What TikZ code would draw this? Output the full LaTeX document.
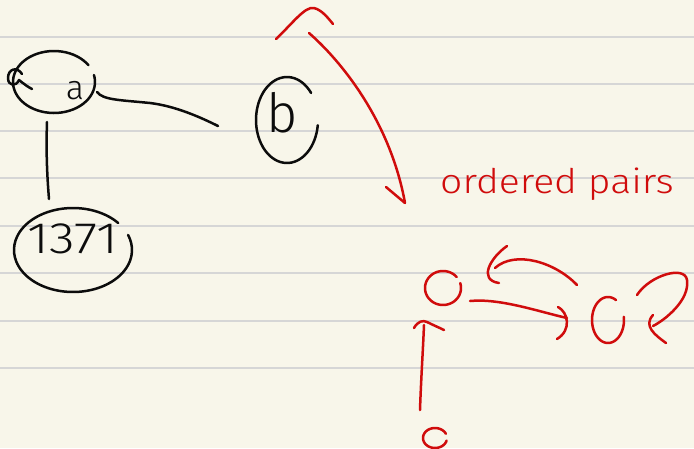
\documentclass[tikz,border=0pt]{standalone}
\usepackage{fontspec}
\newfontfamily\hand{Fira Sans Light}
\definecolor{paper}{RGB}{248,246,234}
\definecolor{rulegray}{RGB}{214,214,214}
\definecolor{ink}{RGB}{12,12,12}
\definecolor{redink}{RGB}{208,12,12}
\begin{document}
\begin{tikzpicture}[x=1pt,y=-1pt,
  pen/.style={draw=ink,line width=2.5pt,line cap=round,line join=round},
  rpen/.style={draw=redink,line width=2.5pt,line cap=round,line join=round},
  ruleline/.style={draw=rulegray,line width=1.4pt},
  lbl/.style={inner sep=0pt,text=ink}]
\fill[paper] (0,0) rectangle (694,448);
\useasboundingbox (0,0) rectangle (694,448);
\foreach \yy in {37,84,131,178,226,273,321,368} \draw[ruleline] (0,\yy) -- (694,\yy);

% ---- black nodes ----
\node[lbl,font=\hand\fontsize{34}{34}\selectfont] (alab) at (75,91) {a};
\draw[pen] plot[smooth,domain=-373:-33,samples=60] ({54+41*cos(\x)},{82+31*sin(\x)});
\draw[pen] (22,74) .. controls (17,66) and (8,69) .. (8,78) .. controls (8,86) and (16,87) .. (19,80) .. controls (24,84) and (28,87) .. (32,89);

\node[lbl,font=\hand\fontsize{54}{54}\selectfont] (blab) at (282,113) {b};
\draw[pen] plot[smooth,domain=-353:-39,samples=60] ({287+31*cos(\x)},{120+43*sin(\x)});

\node[lbl,font=\hand\fontsize{44}{44}\selectfont,xscale=1.2] (nlab) at (73,239) {1371};
\draw[pen] plot[smooth,domain=-381:-40,samples=60] ({73+59*cos(\x)},{250+42*sin(\x)});

% ---- black connectors ----
\coordinate (aE) at (97,92);
\coordinate (bW) at (218,126);
\coordinate (aS) at (47,122);
\coordinate (nN) at (49,199);
\draw[pen] (aE) .. controls (103,100) and (120,100) .. (150,103) .. controls (175,106) and (200,117) .. (bW);
\draw[pen] (aS) .. controls (46,150) and (47,175) .. (nN);

% ---- red ----
\coordinate (bigS) at (309,33);
\coordinate (bigE) at (405,203);
\draw[rpen] (276,39) .. controls (292,24) and (305,6) .. (314,8) .. controls (322,10) and (328,18) .. (333,24);
\draw[rpen] (bigS) .. controls (340,60) and (390,120) .. (bigE);
\draw[rpen] (386,187) -- (bigE);

\node[inner sep=0pt,anchor=base west,text=redink,font=\hand\fontsize{34}{34}\selectfont,xscale=1.15] (op) at (440,193) {ordered pairs};

% small graph
\draw[rpen] plot[smooth,domain=-377:-40,samples=50] ({443+18*cos(\x)},{288+17*sin(\x)});
\draw[rpen] plot[smooth,domain=-368:-60,samples=50] ({608+16*cos(\x)},{320+23*sin(\x)});
\draw[rpen] plot[smooth,domain=-345:-25,samples=40] ({435+12*cos(\x)},{438+10*sin(\x)});

\coordinate (c1E) at (470,301);
\coordinate (uW) at (567,318);
\coordinate (uN) at (577,285);
\coordinate (c1NE) at (495,268);
\coordinate (uR) at (637,295);
\coordinate (uR2) at (653,326);
\coordinate (c2N) at (420,410);
\coordinate (c1S) at (424,325);

\draw[rpen] (c1E) .. controls (500,298) and (540,312) .. (uW);
\draw[rpen] (558,307) .. controls (568,312) and (572,330) .. (557,339);

\draw[rpen] (uN) .. controls (555,262) and (515,250) .. (c1NE);
\draw[rpen] (507,246) .. controls (490,258) and (478,280) .. (499,283);

\draw[rpen] (uR) .. controls (650,275) and (685,265) .. (687,280) .. controls (690,300) and (665,320) .. (uR2);
\draw[rpen] (653,315) .. controls (643,326) and (655,335) .. (666,343);

\draw[rpen] (c2N) .. controls (421,380) and (423,350) .. (c1S);
\draw[rpen] (414,328) .. controls (418,321) and (423,320) .. (427,322) .. controls (433,325) and (440,328) .. (444,330);
\end{tikzpicture}
\end{document}
